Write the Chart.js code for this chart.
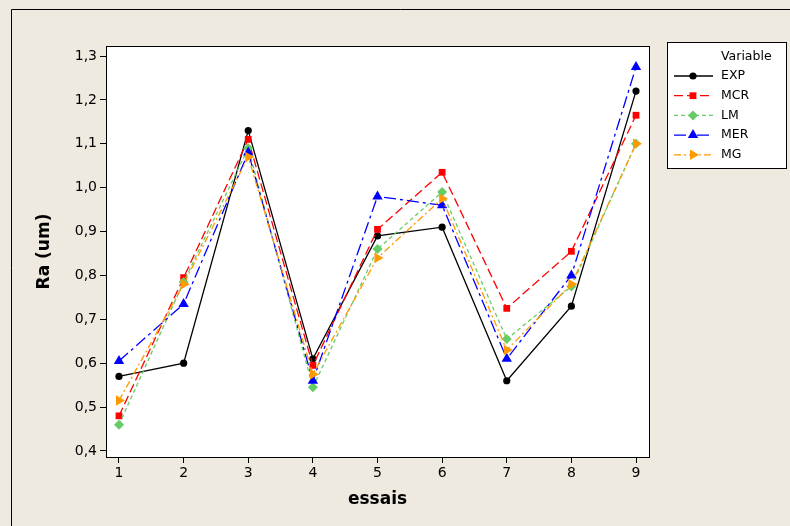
<!DOCTYPE html>
<html>
<head>
<meta charset="utf-8">
<script src="https://cdn.jsdelivr.net/npm/chart.js@4/dist/chart.umd.min.js"></script>
<style>
  html, body { margin: 0; padding: 0; background: #EEEAE0; }
  #wrap { width: 790px; height: 526px; position: relative; }
</style>
</head>
<body>
<div id="wrap"><canvas id="c" width="790" height="526"></canvas></div>
<script>
// Trials (essais) and measured / predicted roughness Ra (um)
const essais = [1, 2, 3, 4, 5, 6, 7, 8, 9];
const EXP = [0.57, 0.60, 1.13, 0.61, 0.89, 0.91, 0.56, 0.73, 1.22];
const MCR = [0.48, 0.795, 1.11, 0.595, 0.905, 1.035, 0.725, 0.855, 1.165];
const LM  = [0.46, 0.785, 1.09, 0.545, 0.86, 0.99, 0.655, 0.775, 1.10];
const MER = [0.605, 0.735, 1.08, 0.56, 0.98, 0.96, 0.61, 0.80, 1.275];
const MG  = [0.515, 0.78, 1.07, 0.575, 0.84, 0.975, 0.63, 0.78, 1.10];
const yTicks = [0.4, 0.5, 0.6, 0.7, 0.8, 0.9, 1.0, 1.1, 1.2, 1.3];
const seriesNames = ['EXP', 'MCR', 'LM', 'MER', 'MG'];

const BG = '#EEEAE0';
const FONT = "'DejaVu Sans', Verdana, sans-serif";

function pts(arr) { return arr.map((v, i) => ({ x: essais[i], y: v })); }

const styles = {
  EXP: { color: '#000000', dash: [], point: 'circle', r: 3.6, rot: 0 },
  MCR: { color: '#FF0000', dash: [9, 4], point: 'rect', r: 4.8, rot: 0 },
  LM:  { color: '#66CC66', dash: [4, 3], point: 'rectRot', r: 5, rot: 0 },
  MER: { color: '#0000FF', dash: [12, 4, 3, 4], point: 'triangle', r: 6, rot: 0 },
  MG:  { color: '#FF9900', dash: [7, 3, 2, 3], point: 'triangle', r: 6, rot: 90 }
};
const values = { EXP, MCR, LM, MER, MG };

const datasets = seriesNames.map((name, i) => {
  const s = styles[name];
  return {
    label: name,
    data: pts(values[name]),
    borderColor: s.color,
    backgroundColor: s.color,
    borderWidth: 1.3,
    borderDash: s.dash,
    pointStyle: s.point,
    pointRadius: s.r,
    pointRotation: s.rot,
    pointBorderWidth: 0,
    pointBackgroundColor: s.color,
    tension: 0,
    order: seriesNames.length - i
  };
});

// Simple marker painter for the legend samples
function marker(ctx, style, x, y, r, rot, color) {
  ctx.save();
  ctx.fillStyle = color;
  ctx.translate(x, y);
  ctx.rotate(rot * Math.PI / 180);
  ctx.beginPath();
  if (style === 'circle') {
    ctx.arc(0, 0, r, 0, Math.PI * 2);
  } else if (style === 'rect') {
    const s = Math.SQRT1_2 * r;
    ctx.rect(-s, -s, 2 * s, 2 * s);
  } else if (style === 'rectRot') {
    ctx.moveTo(0, -r); ctx.lineTo(r, 0); ctx.lineTo(0, r); ctx.lineTo(-r, 0);
  } else if (style === 'triangle') {
    for (let k = 0; k < 3; k++) {
      const a = k * 2 * Math.PI / 3;
      const px = Math.sin(a) * r, py = -Math.cos(a) * r;
      if (k === 0) ctx.moveTo(px, py); else ctx.lineTo(px, py);
    }
  }
  ctx.closePath();
  ctx.fill();
  ctx.restore();
}

const framePlugin = {
  id: 'frame',
  beforeDraw(chart) {
    const { ctx, chartArea: a } = chart;
    ctx.save();
    ctx.fillStyle = BG;
    ctx.fillRect(0, 0, chart.width, chart.height);
    // outer graph frame
    ctx.strokeStyle = '#000';
    ctx.lineWidth = 1;
    ctx.beginPath();
    ctx.moveTo(11.5, 526);
    ctx.lineTo(11.5, 9.5);
    ctx.lineTo(790, 9.5);
    ctx.stroke();
    ctx.fillStyle = '#FFFFFF';
    ctx.fillRect(a.left, a.top, a.right - a.left, a.bottom - a.top);
    ctx.restore();
  },
  afterDraw(chart) {
    const { ctx, chartArea: a } = chart;
    ctx.save();
    ctx.strokeStyle = '#000';
    ctx.lineWidth = 1;
    ctx.strokeRect(Math.round(a.left) + 0.5, Math.round(a.top) + 0.5,
                   Math.round(a.right - a.left), Math.round(a.bottom - a.top));

    // legend box
    const lx = 667, ly = 42, lw = 119, lh = 126;
    ctx.fillStyle = '#FFFFFF';
    ctx.fillRect(lx, ly, lw, lh);
    ctx.strokeRect(lx + 0.5, ly + 0.5, lw, lh);
    ctx.fillStyle = '#000';
    ctx.font = '12.5px ' + FONT;
    ctx.textBaseline = 'middle';
    ctx.textAlign = 'left';
    ctx.fillText('Variable', 721, 57);
    seriesNames.forEach((name, i) => {
      const s = styles[name];
      const y = 76 + i * 19.7;
      ctx.save();
      ctx.strokeStyle = s.color;
      ctx.lineWidth = 1.3;
      ctx.setLineDash(s.dash);
      ctx.beginPath();
      ctx.moveTo(674, y);
      ctx.lineTo(713, y);
      ctx.stroke();
      ctx.restore();
      marker(ctx, s.point, 693, y, s.r, s.rot, s.color);
      ctx.fillStyle = '#000';
      ctx.fillText(name, 721, y);
    });
    ctx.restore();
  }
};

new Chart(document.getElementById('c'), {
  type: 'line',
  data: { datasets },
  plugins: [framePlugin],
  options: {
    responsive: false,
    animation: false,
    layout: { padding: { top: 46, right: 141, left: 0, bottom: 0 } },
    plugins: { legend: { display: false }, tooltip: { enabled: false } },
    scales: {
      x: {
        type: 'linear',
        min: 0.799,
        max: 9.201,
        afterFit(scale) { scale.height = 69; },
        afterBuildTicks(scale) { scale.ticks = essais.map(v => ({ value: v })); },
        ticks: {
          color: '#000',
          font: { family: FONT, size: 14 },
          padding: 2,
          maxRotation: 0,
          callback: v => String(v)
        },
        grid: { display: true, drawOnChartArea: false, drawTicks: true, tickLength: 6, color: '#000', tickColor: '#000' },
        border: { display: true, color: '#000' },
        title: {
          display: true,
          text: 'essais',
          color: '#000',
          font: { family: FONT, size: 17, weight: 'bold' },
          padding: { top: 0, bottom: 16 }
        }
      },
      y: {
        type: 'linear',
        min: 0.3863,
        max: 1.3228,
        afterFit(scale) { scale.width = 106; },
        afterBuildTicks(scale) { scale.ticks = yTicks.map(v => ({ value: v })); },
        ticks: {
          color: '#000',
          font: { family: FONT, size: 14 },
          padding: 3,
          callback: v => v.toFixed(1).replace('.', ',')
        },
        grid: { display: true, drawOnChartArea: false, drawTicks: true, tickLength: 6, color: '#000', tickColor: '#000' },
        border: { display: true, color: '#000' },
        title: {
          display: true,
          text: 'Ra (um)',
          color: '#000',
          font: { family: FONT, size: 17, weight: 'bold' },
          padding: { top: 34, bottom: 0 }
        }
      }
    }
  }
});
</script>
</body>
</html>
